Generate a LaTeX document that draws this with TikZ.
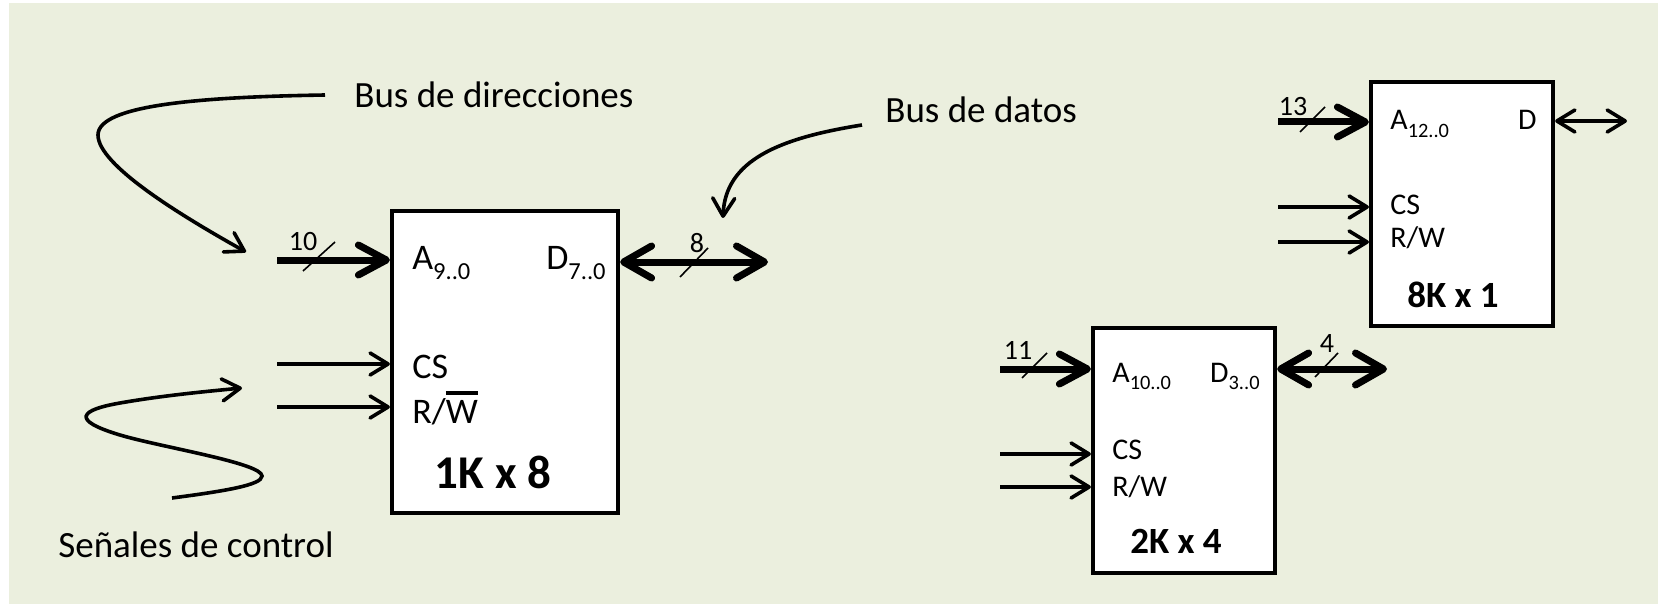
\documentclass[tikz,border=0pt]{standalone}
\usepackage{fontspec}
\usepackage{graphicx}
\setmainfont{Carlito}
\usetikzlibrary{arrows.meta}
\definecolor{paper}{RGB}{235,239,222}
% lowered, smaller index (A_{9..0})
\newcommand{\lo}[1]{\raisebox{-0.25em}{\scalebox{0.68}{#1}}}
% thick bar over a letter (active-low signal)
\newcommand{\ovl}[1]{\leavevmode\vbox{\hrule height 0.1em\kern 0.15em\hbox{#1}}}
\tikzset{
  chip/.style={draw, line width=2.1pt, fill=white, inner sep=0pt},
  bus/.style={line width=3.5pt, -{Straight Barb[length=14pt,width=15pt,round]}},
  dbus/.style={line width=3.5pt, {Straight Barb[length=14pt,width=16pt,round]}-{Straight Barb[length=14pt,width=16pt,round]}},
  sig/.style={line width=1.8pt, -{Straight Barb[length=9pt,width=11pt,round]}},
  dsig/.style={line width=1.8pt, {Straight Barb[length=9pt,width=11pt,round]}-{Straight Barb[length=9pt,width=11pt,round]}},
  tick/.style={line width=0.8pt},
  num/.style={inner sep=0pt, anchor=base, font=\fontsize{14pt}{16pt}\selectfont},
  big/.style={inner sep=0pt, font=\fontsize{18pt}{20pt}\selectfont},
  small/.style={inner sep=0pt, font=\fontsize{15pt}{17pt}\selectfont},
  caption/.style={inner sep=0pt, anchor=base west, font=\fontsize{18.5pt}{21pt}\selectfont},
  bigname/.style={inner sep=0pt, anchor=base, font=\fontsize{23.5pt}{26pt}\selectfont\bfseries},
  smallname/.style={inner sep=0pt, anchor=base, font=\fontsize{18.5pt}{21pt}\selectfont\bfseries},
}
\begin{document}
\begin{tikzpicture}[x=0.5pt,y=-0.5pt]
\useasboundingbox (0,0) rectangle (1658,604);
\fill[paper] (9,3) rectangle (1658,604);

% ---------- 1K x 8 memory ----------
\node[chip, minimum width=113pt, minimum height=151pt] (m1) at (505,362) {};
\node[big, anchor=base west] (m1a) at (412,270) {A\lo{9..0}};
\node[big, anchor=base east] (m1d) at (606,270) {D\lo{7..0}};
\node[big, anchor=base west] (m1cs) at (412,378) {CS};
\node[big, anchor=base west] (m1rw) at (412,423) {R/\ovl{W}};
\node[bigname] (m1n) at (493,488) {1K x 8};

\coordinate (m1ai) at (277,260);
\draw[bus] (m1ai) -- (m1ai -| m1.west);
\draw[tick] (303,271) -- (335,242);
\node[num] (m1an) at (303,250) {10};

\coordinate (m1do) at (768,262);
\draw[dbus] (m1do -| m1.east) -- (m1do);
\draw[tick] (680,277) -- (708,248);
\node[num] (m1dn) at (697,252) {8};

\coordinate (m1ci) at (277,364);
\coordinate (m1ri) at (277,407);
\draw[sig] (m1ci) -- (m1ci -| m1.west);
\draw[sig] (m1ri) -- (m1ri -| m1.west);

% ---------- captions and their pointers ----------
\node[caption] (cdir) at (354,108) {Bus de direcciones};
\node[caption] (cdat) at (885,123) {Bus de datos};
\node[caption] (cctl) at (58,557) {Señales de control};

\coordinate (pdir) at (325,95);
\coordinate (tdir) at (246,252);
\draw[sig] (pdir) .. controls (200,97) and (98,105) .. (98,135)
  .. controls (98,165) and (180,215) .. (tdir);

\coordinate (pdat) at (862,125);
\coordinate (tdat) at (723,218);
\draw[sig] (pdat) .. controls (780,138) and (725,160) .. (tdat);

\coordinate (pctl) at (172,498);
\coordinate (tctl) at (242,388);
\draw[sig] (pctl) .. controls (225,491) and (262,485) .. (262,476)
  .. controls (262,463) and (160,447) .. (120,435)
  .. controls (70,420) and (80,410) .. (120,403)
  .. controls (160,396) and (200,392) .. (tctl);

% ---------- 2K x 4 memory ----------
\node[chip, minimum width=91pt, minimum height=122.5pt] (m2) at (1184,450.5) {};
\node[small, anchor=base west] (m2a) at (1112,382) {A\lo{10..0}};
\node[small, anchor=base east] (m2d) at (1260,382) {D\lo{3..0}};
\node[small, anchor=base west] (m2cs) at (1112,459) {CS};
\node[small, anchor=base west] (m2rw) at (1112,496) {R/W};
\node[smallname] (m2n) at (1176,553) {2K x 4};

\coordinate (m2ai) at (1000,369);
\draw[bus] (m2ai) -- (m2ai -| m2.west);
\draw[tick] (1022,378) -- (1047,353);
\node[num] (m2an) at (1018,359) {11};

\coordinate (m2do) at (1387,369);
\draw[dbus] (m2do -| m2.east) -- (m2do);
\draw[tick] (1315,377) -- (1338,353);
\node[num] (m2dn) at (1327,352) {4};

\coordinate (m2ci) at (1000,454);
\coordinate (m2ri) at (1000,487);
\draw[sig] (m2ci) -- (m2ci -| m2.west);
\draw[sig] (m2ri) -- (m2ri -| m2.west);

% ---------- 8K x 1 memory ----------
\node[chip, minimum width=91pt, minimum height=122pt] (m3) at (1462,204) {};
\node[small, anchor=base west] (m3a) at (1390,130) {A\lo{12..0}};
\node[small, anchor=base east] (m3d) at (1537,130) {D};
\node[small, anchor=base west] (m3cs) at (1390,214) {CS};
\node[small, anchor=base west] (m3rw) at (1390,248) {R/W};
\node[smallname] (m3n) at (1453,307) {8K x 1};

\coordinate (m3ai) at (1278,122);
\draw[bus] (m3ai) -- (m3ai -| m3.west);
\draw[tick] (1300,132) -- (1325,107);
\node[num] (m3an) at (1293,116) {13};

\coordinate (m3do) at (1627,121);
\draw[dsig] (m3do -| m3.east) -- (m3do);

\coordinate (m3ci) at (1278,207);
\coordinate (m3ri) at (1278,242);
\draw[sig] (m3ci) -- (m3ci -| m3.west);
\draw[sig] (m3ri) -- (m3ri -| m3.west);
\end{tikzpicture}
\end{document}
